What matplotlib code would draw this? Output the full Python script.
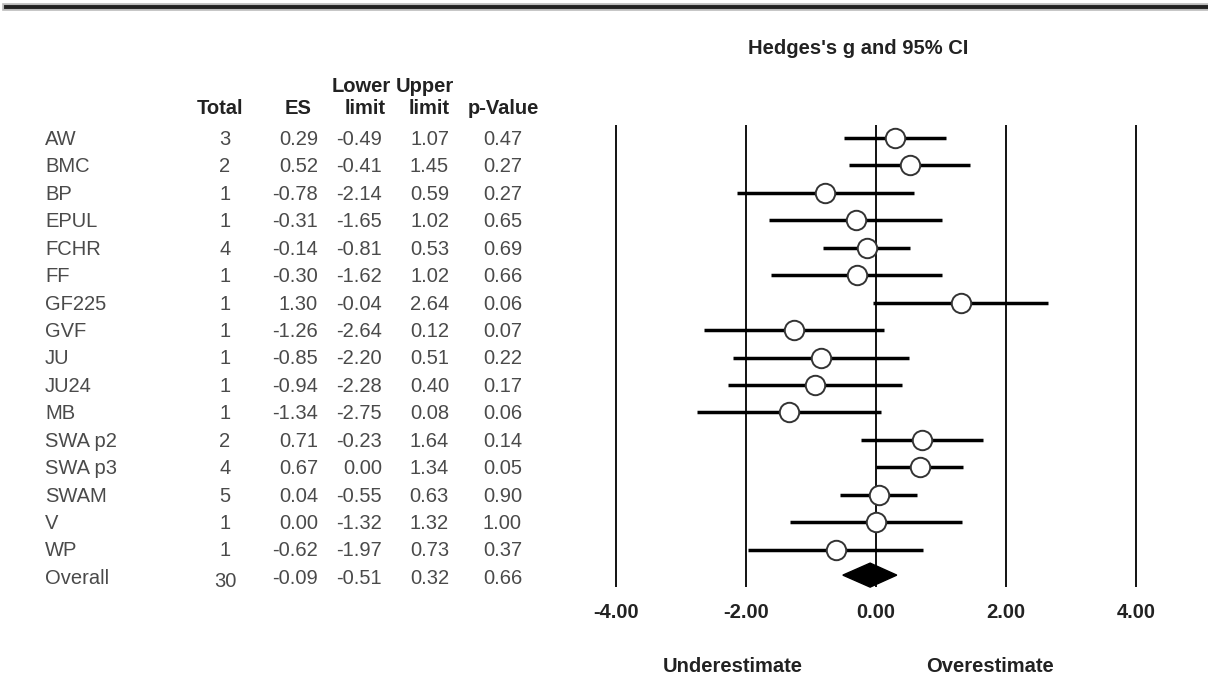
import matplotlib
matplotlib.use('Agg')
import matplotlib.pyplot as plt
from matplotlib.patches import Polygon

# Study data
studies = ['AW', 'BMC', 'BP', 'EPUL', 'FCHR', 'FF', 'GF225', 'GVF', 'JU', 'JU24',
           'MB', 'SWA p2', 'SWA p3', 'SWAM', 'V', 'WP']
totals = [3, 2, 1, 1, 4, 1, 1, 1, 1, 1, 1, 2, 4, 5, 1, 1]
es = [0.29, 0.52, -0.78, -0.31, -0.14, -0.30, 1.30, -1.26, -0.85, -0.94,
      -1.34, 0.71, 0.67, 0.04, 0.00, -0.62]
lower = [-0.49, -0.41, -2.14, -1.65, -0.81, -1.62, -0.04, -2.64, -2.20, -2.28,
         -2.75, -0.23, 0.00, -0.55, -1.32, -1.97]
upper = [1.07, 1.45, 0.59, 1.02, 0.53, 1.02, 2.64, 0.12, 0.51, 0.40,
         0.08, 1.64, 1.34, 0.63, 1.32, 0.73]
pvals = [0.47, 0.27, 0.27, 0.65, 0.69, 0.66, 0.06, 0.07, 0.22, 0.17,
         0.06, 0.14, 0.05, 0.90, 1.00, 0.37]

overall_total = 30
overall_es, overall_lower, overall_upper, overall_p = -0.09, -0.51, 0.32, 0.66

ticks = [-4, -2, 0, 2, 4]

plt.rcParams['font.family'] = ['Liberation Sans', 'DejaVu Sans']

W, H = 1208, 683
fig = plt.figure(figsize=(W / 100, H / 100), dpi=100)

# pixel helpers for layout
def fx(px):
    return px / W

def fy(py):
    return 1 - py / H

top_px, bot_px = 120, 600
row0_px, row_step = 138, 27.44
ylim = (16 + (bot_px - row0_px - 16 * row_step) / row_step, (top_px - row0_px) / row_step)

# top rule
fig.add_artist(plt.Line2D([fx(6), 1], [fy(7), fy(7)], color='#bbbbbb', lw=5.5))
fig.add_artist(plt.Line2D([fx(6), 1], [fy(7), fy(7)], color='#222222', lw=2.8))

# ---- table on the left ----
tab = fig.add_axes([0, fy(bot_px), fx(590), (bot_px - top_px) / H])
tab.set_xlim(0, 590)
tab.set_ylim(*ylim)
tab.axis('off')

txt = dict(fontsize=14.5, color='#4a4a4a', va='center')
rows = list(range(len(studies))) + [len(studies)]
names = studies + ['Overall']
tot_all = totals + [overall_total]
es_all = es + [overall_es]
lo_all = lower + [overall_lower]
up_all = upper + [overall_upper]
p_all = pvals + [overall_p]
for r, n, t, e, lo, up, p in zip(rows, names, tot_all, es_all, lo_all, up_all, p_all):
    dy = 0.1 if n == 'Overall' else 0.0
    tab.text(45, r + 0.05, n, ha='left', **txt)
    tab.text(225, r + 0.05 + dy, str(t), ha='center', **txt)
    tab.text(318, r + 0.05, f'{e:.2f}', ha='right', **txt)
    tab.text(382, r + 0.05, f'{lo:.2f}', ha='right', **txt)
    tab.text(449, r + 0.05, f'{up:.2f}', ha='right', **txt)
    tab.text(522, r + 0.05, f'{p:.2f}', ha='right', **txt)

hdr = dict(fontsize=14.5, fontweight='bold', color='#222222', va='center')
fig.text(fx(220), fy(108), 'Total', ha='center', **hdr)
fig.text(fx(298), fy(108), 'ES', ha='center', **hdr)
fig.text(fx(361), fy(87), 'Lower', ha='center', **hdr)
fig.text(fx(365), fy(108), 'limit', ha='center', **hdr)
fig.text(fx(425), fy(87), 'Upper', ha='center', **hdr)
fig.text(fx(429), fy(108), 'limit', ha='center', **hdr)
fig.text(fx(503), fy(108), 'p-Value', ha='center', **hdr)

# ---- forest plot on the right ----
ax = fig.add_axes([fx(590), fy(bot_px), fx(580), (bot_px - top_px) / H])
scale = 65.0
ax.set_xlim(-4 - 26 / scale, 4 + 34 / scale)
ax.set_ylim(*ylim)
for s in ax.spines.values():
    s.set_visible(False)
ax.set_yticks([])
ax.set_xticks(ticks)
ax.set_xticklabels([f'{t:.2f}' for t in ticks], fontsize=14.5, fontweight='bold',
                   color='#222222')
ax.tick_params(axis='x', length=0, pad=2.5)

line_top = (125 - row0_px) / row_step
line_bot = (587 - row0_px) / row_step
ax.vlines(ticks, line_bot, line_top, color='black', lw=1.3, zorder=1)

for r, e, lo, up in zip(range(len(studies)), es, lower, upper):
    ax.plot([lo, up], [r, r], color='black', lw=2.5, solid_capstyle='butt', zorder=2)
    ax.plot(e, r, 'o', ms=14, mfc='white', mec='#333333', mew=1.4, zorder=3)

r = len(studies) - 0.07
h = 12 / row_step
diamond = Polygon([[overall_lower, r], [overall_es, r - h], [overall_upper, r], [overall_es, r + h]],
                  closed=True, facecolor='black', edgecolor='black', zorder=4)
ax.add_patch(diamond)

lab = dict(ha='center', va='center', fontsize=14.5, fontweight='bold', color='#222222')
fig.text(fx(858), fy(48), "Hedges's g and 95% CI", **lab)
fig.text(fx(733), fy(667), 'Underestimate', **lab)
fig.text(fx(990), fy(667), 'Overestimate', **lab)

fig.savefig('out.png', dpi=100, facecolor='white')
